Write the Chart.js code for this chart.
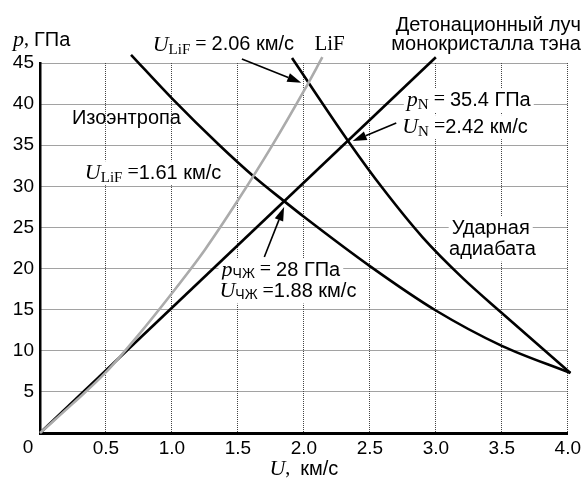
<!DOCTYPE html>
<html>
<head>
<meta charset="utf-8">
<script src="https://cdn.jsdelivr.net/npm/chart.js@4"></script>
<style>
  html, body { margin:0; padding:0; background:#fff; }
</style>
</head>
<body>
<canvas id="c" width="585" height="478"></canvas>
<script>
// ---- data ----
const lifU   = [0, 0.25, 0.5, 0.75, 1.0, 1.25, 1.5, 1.75, 2.0, 2.14];
const lifP   = [0, 3.6, 7.4, 12.0, 17.0, 22.3, 28.3, 34.7, 41.6, 45.7];

const rayU   = [0, 3.0];
const rayP   = [0, 45.7];

const isenU  = [0.69, 1.0, 1.36, 1.62, 1.85, 2.0, 2.5, 3.0, 3.5, 4.02];
const isenP  = [46.0, 40.7, 35.0, 31.2, 28.2, 26.3, 20.3, 14.9, 10.6, 7.3];

const shockU = [1.91, 2.34, 2.6, 2.9, 3.2, 3.5, 4.02];
const shockP = [45.6, 35.4, 29.7, 23.8, 18.9, 14.6, 7.3];

const xTicks = [0, 0.5, 1.0, 1.5, 2.0, 2.5, 3.0, 3.5, 4.0];
const yTicks = [0, 5, 10, 15, 20, 25, 30, 35, 40, 45];

const pts = (us, ps) => us.map((u, i) => ({ x: u, y: ps[i] }));

// ---- fonts ----
const SANS  = '"Liberation Sans", Arial, sans-serif';
const SERIF = '"Liberation Serif", "Times New Roman", serif';
const fSans = '20px ' + SANS;
const fVar  = 'italic 22px ' + SERIF;
const fSubS = '15px ' + SERIF;
const fSubC = '14px ' + SANS;
const fEq   = '20px ' + SERIF;

// labels inside the plot: [U, p] = left edge / vertical middle
const notes = [
  { at:[0.854, 47.2], runs:[['U',fVar],['LiF',fSubS,5],[' = ',fEq],['2.06 км/с',fSans]] },
  { at:[2.08, 47.2],  runs:[['LiF','21px '+SERIF]] },
  { at:[4.10, 49.6],  runs:[['Детонационный луч',fSans]], align:'right' },
  { at:[4.10, 47.2],  runs:[['монокристалла тэна',fSans]], align:'right' },
  { at:[0.242, 38.3], runs:[['Изоэнтропа',fSans]] },
  { at:[0.34, 31.6],  runs:[['U',fVar],['LiF',fSubS,5],[' =',fEq],['1.61 км/с',fSans]], bg:true },
  { at:[2.78, 40.5],  runs:[['p',fVar],['N',fSubS,5],[' = ',fEq],['35.4 ГПа',fSans]], bg:true },
  { at:[2.745, 37.2], runs:[['U',fVar],['N',fSubS,5],[' =',fEq],['2.42 км/с',fSans]], bg:true },
  { at:[3.12, 24.9],  runs:[['Ударная',fSans]], bg:true },
  { at:[3.10, 22.3],  runs:[['адиабата',fSans]], bg:true },
  { at:[1.376, 19.8], runs:[['p',fVar],['ЧЖ',fSubC,4],[' = ',fEq],['28 ГПа',fSans]], bg:true },
  { at:[1.36, 17.2],  runs:[['U',fVar],['ЧЖ',fSubC,4],[' =',fEq],['1.88 км/с',fSans]], bg:true },
];

// arrows: from -> tip, in data units
const arrows = [
  [[1.53, 45.5], [1.98, 42.6]],
  [[2.70, 37.7], [2.37, 35.5]],
  [[1.70, 21.4], [1.85, 27.5]],
];

function runsWidth(ctx, runs) {
  let w = 0;
  runs.forEach(r => { ctx.font = r[1]; w += ctx.measureText(r[0]).width; });
  return w;
}

function drawRuns(ctx, x, y, runs, bg) {
  const w = runsWidth(ctx, runs);
  if(bg) { ctx.fillStyle = '#fff'; ctx.fillRect(x - 3, y - 12, w + 6, 24); }
  ctx.fillStyle = '#000';
  ctx.textBaseline = 'middle';
  ctx.textAlign = 'left';
  let cx = x;
  runs.forEach(r => {
    ctx.font = r[1];
    ctx.fillText(r[0], cx, y + (r[2] || 0));
    cx += ctx.measureText(r[0]).width;
  });
}

const notesPlugin = {
  id: 'notes',
  beforeDatasetsDraw(chart) {
    const { ctx, scales: { x, y } } = chart;
    ctx.save();
    notes.forEach(n => {
      let px = x.getPixelForValue(n.at[0]);
      const py = y.getPixelForValue(n.at[1]);
      if(n.align === 'right') px = Math.min(px, chart.width - 2) - runsWidth(ctx, n.runs);
      drawRuns(ctx, px, py, n.runs, n.bg);
    });
    ctx.restore();
  },
  afterDatasetsDraw(chart) {
    const { ctx, chartArea: a, scales: { x, y } } = chart;
    ctx.save();
    ctx.strokeStyle = '#000'; ctx.fillStyle = '#000'; ctx.lineWidth = 1.6;
    arrows.forEach(([f, t]) => {
      const x1 = x.getPixelForValue(f[0]), y1 = y.getPixelForValue(f[1]);
      const x2 = x.getPixelForValue(t[0]), y2 = y.getPixelForValue(t[1]);
      const ang = Math.atan2(y2 - y1, x2 - x1), L = 14, H = 4.5;
      const bx = x2 - L * Math.cos(ang), by = y2 - L * Math.sin(ang);
      ctx.beginPath(); ctx.moveTo(x1, y1); ctx.lineTo(bx, by); ctx.stroke();
      ctx.beginPath();
      ctx.moveTo(x2, y2);
      ctx.lineTo(bx + H * Math.sin(ang), by - H * Math.cos(ang));
      ctx.lineTo(bx - H * Math.sin(ang), by + H * Math.cos(ang));
      ctx.closePath(); ctx.fill();
    });
    // axis titles and the shared origin label
    drawRuns(ctx, 13, 40, [['p', fVar], [', ', fEq], ['ГПа', fSans]]);
    const t = [['U', fVar], [',  ', fEq], ['км/с', fSans]];
    drawRuns(ctx, (a.left + a.right) / 2 - runsWidth(ctx, t) / 2, 469, t);
    ctx.font = '19px ' + SANS; ctx.textAlign = 'center';
    ctx.fillText('0', a.left - 12, a.bottom + 15);
    ctx.restore();
  }
};

Chart.defaults.font.family = SANS;
Chart.defaults.font.size = 19;
Chart.defaults.color = '#000';

const gridOpts = { color: '#444', lineWidth: 1, drawTicks: false };

new Chart(document.getElementById('c'), {
  type: 'line',
  data: {
    datasets: [
      { data: pts(lifU, lifP),     borderColor: '#ababab', borderWidth: 2.6, cubicInterpolationMode: 'monotone' },
      { data: pts(rayU, rayP),     borderColor: '#000', borderWidth: 2.6 },
      { data: pts(isenU, isenP),   borderColor: '#000', borderWidth: 2.6, cubicInterpolationMode: 'monotone' },
      { data: pts(shockU, shockP), borderColor: '#000', borderWidth: 2.6, cubicInterpolationMode: 'monotone' },
    ].map(d => ({ ...d, pointRadius: 0, fill: false, clip: false })),
  },
  options: {
    responsive: false,
    animation: false,
    devicePixelRatio: 1,
    layout: { padding: { top: 63, right: 16, left: 0, bottom: 0 } },
    plugins: { legend: { display: false }, tooltip: { enabled: false } },
    scales: {
      x: {
        type: 'linear', min: 0, max: 4,
        afterBuildTicks: s => { s.ticks = xTicks.map(v => ({ value: v })); },
        afterFit: s => { s.height = 45; },
        ticks: { padding: 4, maxRotation: 0, callback: v => v === 0 ? '' : v.toFixed(1) },
        grid: gridOpts,
        border: { color: '#000', width: 3, dash: [1, 1] },
      },
      y: {
        type: 'linear', min: 0, max: 45,
        afterBuildTicks: s => { s.ticks = yTicks.map(v => ({ value: v })); },
        afterFit: s => { s.width = 40; },
        ticks: { padding: 6, callback: v => v === 0 ? '' : String(v) },
        grid: gridOpts,
        border: { color: '#000', width: 2.5, dash: [1, 1] },
      },
    },
  },
  plugins: [notesPlugin],
});
</script>
</body>
</html>
